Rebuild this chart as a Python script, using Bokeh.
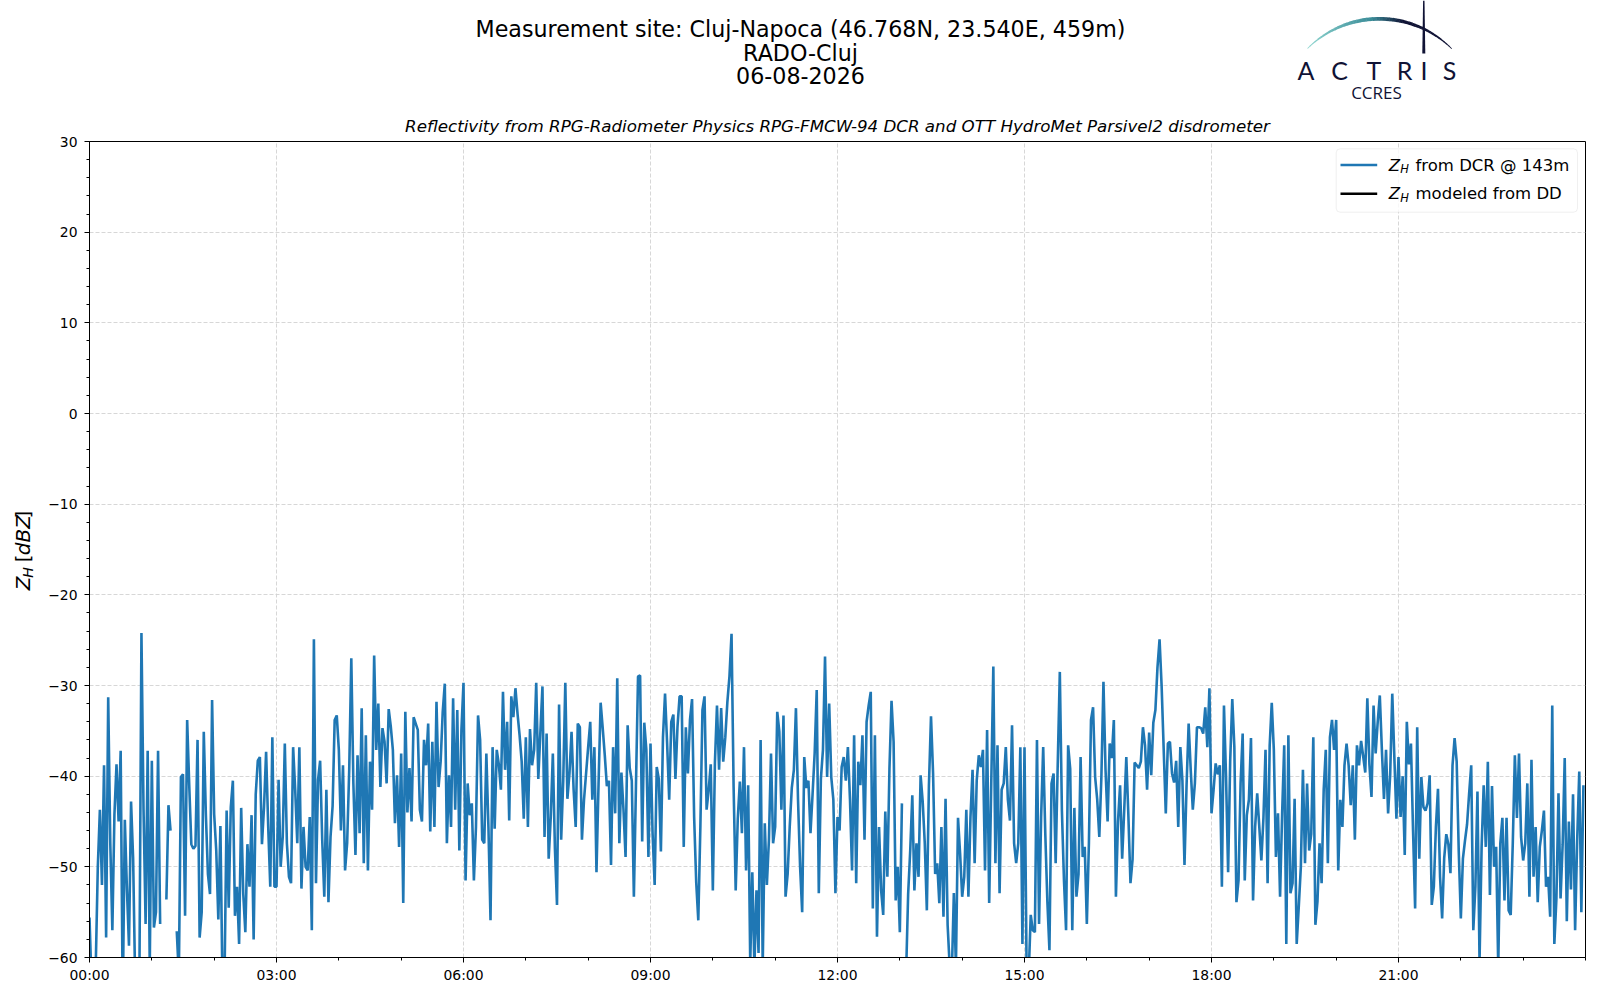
import numpy as np
import pandas as pd
from bokeh.plotting import figure
from bokeh.layouts import column, row
from bokeh.models import (Range1d, FixedTicker, DatetimeTickFormatter, CustomJSTickFormatter,
                          Label, BoxAnnotation, ColumnDataSource)
from bokeh.core.properties import value
from bokeh.embed import file_html
from bokeh.resources import INLINE

nan = float("nan")

# ---------------- texts ----------------
site_title = "Measurement site: Cluj-Napoca (46.768N, 23.540E, 459m)"
station_name = "RADO-Cluj"
date_label = "06-08-2026"
subtitle = "Reflectivity from RPG-Radiometer Physics RPG-FMCW-94 DCR and OTT HydroMet Parsivel2 disdrometer"
legend_labels = ["from DCR @ 143m", "modeled from DD"]
x_tick_labels = ["00:00", "03:00", "06:00", "09:00", "12:00", "15:00", "18:00", "21:00"]
y_ticks = [-60, -50, -40, -30, -20, -10, 0, 10, 20, 30]
day = "2026-08-06"

# ---------------- data: Z_H from DCR (dBZ), 2-minute samples ----------------
zh_00_03 = [-55.6, -63, -64, -61, -50, -43.7, -52, -38.8, -57.8, -31.3,
            -47.4, -57, -44.2, -38.7, -45, -37.2, -65, -44.8, -52.4, -58.7,
            -42.8, -49.1, -63, -62, -63, -24.2, -43.6, -56.3, -37.2, -61,
            -38.3, -56.7, -55, -37.2, -56.3, nan, nan, -53.6, -43.2, -46,
            nan, nan, -57.1, -62, -40.1, -39.8, -55.4, -33.8, -41, -47.5,
            -48, -47.7, -36, -57.8, -55, -35.1, -44.2, -50.8, -53, -31.6,
            -44.2, -48.2, -55.8, -45.5, -63, -62, -43.8, -54.5, -43.4, -40.5,
            -55.4, -52.2, -58.5, -43.5, -53, -57.2, -47.5, -52.2, -44.3, -58,
            -42, -38.3, -37.9, -47.5, -43.4, -37.3, -45.5, -52.2, -35.7, -52.2]
zh_03_06 = [-52.2, -40.4, -50, -46.7, -36.4, -47.4, -51.1, -51.8, -36.8, -41.5,
            -47.4, -36.8, -52.4, -45.6, -50, -50.4, -44.5, -57, -24.9, -51.8,
            -40.4, -38.3, -47, -53.3, -41.5, -53.9, -46.7, -43.3, -33.8, -33.3,
            -37.1, -46, -38.8, -50.4, -47.4, -39.3, -27, -40.8, -48.7, -37.7,
            -46.3, -32.5, -49.6, -35.5, -50.4, -38.4, -43.7, -26.7, -37.1, -32,
            -41.2, -34.7, -36.2, -40.8, -32.6, -34.5, -37.1, -45.2, -39.9, -47.8,
            -37.5, -54, -32.9, -44, -39.1, -45, -33.5, -34.2, -34.9, -43.7,
            -45, -36, -38.8, -34.2, -46.1, -36.2, -45.6, -31.8, -41.2, -38.4,
            -32.9, -29.8, -47.4, -39.9, -45.6, -31.4, -43.7, -32.7, -48.2, -34.9]
zh_06_09 = [-29.7, -51.5, -40.8, -44.3, -43, -51.5, -45.6, -33.3, -36, -47,
            -47.4, -37.5, -45.6, -55.9, -36.8, -45.8, -37.1, -38.7, -41.5, -30.7,
            -39.3, -34, -44.9, -31.2, -33.5, -30.3, -33.1, -35.5, -38.4, -44.7,
            -35.7, -45.6, -34.8, -38.8, -37.1, -29.7, -40.3, -35.1, -30.1, -46.7,
            -35.3, -49.1, -44.5, -37.5, -48, -54.2, -32.1, -47, -40.5, -29.7,
            -42.5, -39.7, -35.1, -41.5, -45.6, -34.2, -34.6, -47, -42.6, -39.7,
            -36.8, -34, -42.6, -36.8, -50.6, -40.8, -31.9, -34.7, -37.7, -41.1,
            -40.5, -49.8, -36.8, -44.1, -29.2, -47.4, -39.6, -43.7, -48.9, -34.4,
            -39.1, -40.5, -53.3, -41.1, -29, -28.9, -47.2, -34.1, -37.1, -48.9]
zh_09_12 = [-36.4, -46.3, -52, -39, -40.3, -48.3, -35.7, -30.9, -36.4, -42.6,
            -34, -33.2, -40.3, -34.5, -31.2, -31.2, -47.8, -34.6, -39.7, -33.8,
            -31.5, -44.5, -51.7, -55.9, -45.6, -32.7, -31.2, -43.7, -41.5, -38.7,
            -52.6, -38.5, -32.2, -39.3, -32.5, -38.4, -35.7, -31.8, -29, -24.3,
            -41.2, -52.6, -44.7, -40.6, -46.3, -36.8, -50.4, -41, -60.5, -50.6,
            -61, -52.6, -59.5, -36, -61, -45.2, -52, -47, -37.5, -47.4,
            -45.6, -32.9, -35.1, -43.7, -33.3, -53.3, -50.8, -45.6, -41.3, -39.3,
            -32.5, -42.6, -50, -55, -37.9, -41.3, -40.5, -46.3, -42, -37.5,
            -30.5, -52.9, -40.3, -37.1, -26.8, -40.1, -32, -40.1, -42.6, -52.9]
zh_12_15 = [-44.5, -46, -39, -37.9, -40.5, -36.8, -42.5, -50.4, -35.5, -51.8,
            -38.4, -41, -35.5, -47, -34, -32.2, -30.7, -54.6, -35.5, -57.7,
            -45.6, -52.6, -55.3, -43.9, -51.1, -39.2, -31.7, -36.2, -53.7, -50,
            -57.2, -43, nan, -62, -53, -48.2, -42.1, -52.6, -47.4, -51.1,
            -39.9, -42.8, -47.4, -54.8, -41, -33.4, -39.7, -50.8, -49.6, -54,
            -45.6, -55.5, -42.5, -56.4, -61, -62, -52.9, -61, -44.6, -48.5,
            -53.3, -51.1, -43.7, -53.3, -44.5, -39.3, -49.6, -40.5, -37.7, -39,
            -37.1, -50.4, -34.9, -54, -40.8, -27.9, -49.6, -36.6, -52.9, -41.5,
            -40.8, -36.8, -42.6, -44.9, -34.4, -47.4, -49.6, -47.4, -36.8, -58.5]
zh_15_18 = [-36.8, -61, -62, -55.3, -57, -57.2, -36, -56.3, -44.5, -36.8,
            -46.3, -53.8, -59.2, -40.8, -39.7, -49.6, -38.6, -28.5, -43.8, -51.5,
            -57, -36.6, -39.2, -57, -43.5, -53.3, -50.8, -37.9, -48.9, -47.8,
            -56.3, -47.4, -33.8, -32.4, -40.1, -42.6, -46.7, -40.1, -29.6, -39.3,
            -45, -36.4, -38, -33.8, -53.3, -45, -41, -49.1, -43.7, -37.9,
            -44.4, -51.8, -49.2, -38.5, -38.8, -39.1, -38.4, -34.6, -36.6, -41.5,
            -35.2, -39.9, -34.1, -32.7, -28, -24.9, -30.1, -37.1, -44.1, -36.4,
            -36.2, -39.7, -40.7, -38.3, -45.6, -36.8, -40.5, -49.8, -41, -34.2,
            -39.3, -43.7, -40.8, -34.6, -34.6, -34.7, -35.3, -32.4, -36.8, -30.3]
zh_18_21 = [-44.1, -41.5, -38.6, -39.8, -38.8, -52.2, -32.2, -40.1, -50.6, -38.3,
            -31.5, -36.8, -53.9, -51.5, -40.8, -35.3, -51.5, -44.3, -42.6, -35.8,
            -53.7, -45.6, -41.9, -45.6, -49.3, -44.6, -37.1, -51.8, -36.6, -31.9,
            -37.1, -48.9, -44.1, -53.3, -44.1, -36.6, -58.5, -35.5, -52.9, -51.8,
            -42.5, -58.5, -54.4, -50, -39.3, -49.6, -40.8, -48.2, -46.4, -35.7,
            -56.4, -53.8, -47.4, -51.8, -41.5, -37.1, -49.6, -35.7, -33.8, -37.1,
            -33.8, -50.4, -42.6, -45.6, -38.8, -36.4, -38.8, -43.2, -38.8, -47,
            -36.6, -38.8, -36.1, -37.8, -39.6, -31.4, -38.7, -42.3, -32.2, -37.5,
            -34, -31.1, -37.1, -42.5, -37.1, -44.1, -39.8, -30.9, -37.9, -44.7]
zh_21_24 = [-37.9, -44.5, -40, -48.7, -34, -38.7, -36.4, -46, -54.6, -34.6,
            -49.1, -40.1, -43.4, -43.8, -43, -39.9, -54.2, -52.2, -45.6, -41.4,
            -51.1, -55.7, -49, -46.4, -47.5, -50.7, -38.8, -35.8, -38.4, -48.3,
            -55.7, -49.1, -47.1, -45.3, -41.9, -38.8, -57, -52.2, -41.7, -60.5,
            -47.8, -41, -47.8, -38.4, -53.1, -41.1, -50, -47.8, -61, -47.4,
            -44.6, -53.7, -44.6, -54.8, -55.3, -47.4, -37.7, -44.6, -37.5, -46.7,
            -49.3, -47.4, -40.8, -53.3, -38.2, -51.1, -45.6, -53.9, -47.8, -46,
            -43.8, -52.2, -51.1, -55.5, -32.2, -58.5, -53.5, -41.9, -53.5, -47.5,
            -38, -56, -45, -52.5, -42, -57, -47, -39.5, -55, -41]
# Z_H modeled from the disdrometer: no data available on this day
zh_dd = []

# ---------------- assemble ----------------
zh = np.array(zh_00_03 + zh_03_06 + zh_06_09 + zh_09_12 +
              zh_12_15 + zh_15_18 + zh_18_21 + zh_21_24, dtype=float)
times = pd.date_range(day + " 00:00", periods=len(zh), freq="2min")
src = ColumnDataSource(dict(time=times, zh=zh))
src_dd = ColumnDataSource(dict(time=times[:len(zh_dd)], zh=np.array(zh_dd, dtype=float)))

day0 = pd.Timestamp(day)
tick_ms = [(day0 + pd.Timedelta(hours=int(s[:2]))).value // 10**6 for s in x_tick_labels]
minor_ms = [(day0 + pd.Timedelta(hours=h)).value // 10**6 for h in range(0, 25)]

# ---------------- layout geometry (page px) ----------------
W, H = 1596, 996
HH = 105          # header height
YW = 40           # y-label strip width
FL, FT, FR, FB = 89, 141, 1585, 957   # plot frame edges on the page
MW, MH = W - YW, H - HH

navy = "#101335"


def blank(width, height, y0):
    f = figure(width=width, height=height, output_backend="svg", toolbar_location=None,
               x_range=Range1d(0, width), y_range=Range1d(y0 + height, y0),
               x_axis_location=None, y_axis_location=None, min_border=0, title=None)
    f.grid.visible = False
    f.outline_line_color = None
    f.background_fill_color = "white"
    f.border_fill_color = "white"
    return f


def txt(f, x, y, s, size, style="normal", font="DejaVu Sans", align="center",
        baseline="middle", color="black", angle=0.0):
    f.text(x=[x], y=[y], text=[s], text_font=value(font), text_font_size=value(f"{size}px"),
           text_font_style=style, text_align=align, text_baseline=baseline,
           text_color=color, angle=angle)


# ---------- header: titles + logo ----------
hdr = blank(W, HH, 0)
txt(hdr, 800, 28.6, site_title, 22.2)
txt(hdr, 800, 52, station_name, 22.2)
txt(hdr, 800, 74.5, date_label, 22.2)

for ch, cx in zip("ACTRIS", [1305.5, 1339, 1373.5, 1404, 1423.5, 1449]):
    txt(hdr, cx, 69.5, ch, 25, font="Lato", color=navy)
txt(hdr, 1376, 92, "CCRES", 17, font="Open Sans", color=navy)


def mix(c1, c2, t):
    a = [int(c1[i:i + 2], 16) for i in (1, 3, 5)]
    b = [int(c2[i:i + 2], 16) for i in (1, 3, 5)]
    return "#" + "".join(f"{int(round(a[k] + (b[k] - a[k]) * t)):02x}" for k in range(3))


cxo, cyo, R = 1379.0, 120.4, 102.1
phis = np.radians(np.linspace(134.8, 45.2, 49))
arc_xs, arc_ys, arc_cols = [], [], []
for k in range(len(phis) - 1):
    t = k / (len(phis) - 2)
    w0 = 0.8 + 3.0 * np.sin(np.pi * t)
    if t < 0.45:
        col = mix("#8fd6d0", "#3a8c98", t / 0.45)
    elif t < 0.65:
        col = mix("#3a8c98", navy, (t - 0.45) / 0.2)
    else:
        col = navy
    a0, a1 = phis[k], phis[k + 1] - 0.004
    arc_xs.append([cxo + (R + w0 / 2) * np.cos(a0), cxo + (R + w0 / 2) * np.cos(a1),
                   cxo + (R - w0 / 2) * np.cos(a1), cxo + (R - w0 / 2) * np.cos(a0)])
    arc_ys.append([cyo - (R + w0 / 2) * np.sin(a0), cyo - (R + w0 / 2) * np.sin(a1),
                   cyo - (R - w0 / 2) * np.sin(a1), cyo - (R - w0 / 2) * np.sin(a0)])
    arc_cols.append(col)
hdr.patches(xs=arc_xs, ys=arc_ys, fill_color=arc_cols, line_color=None)
hdr.patches(xs=[[1422.6, 1424.0, 1424.8, 1421.8]], ys=[[0, 0, 53, 53]],
            fill_color=navy, line_color=None)

# ---------- y label strip ----------
ylf = blank(YW, MH, HH)
yl_x = 22.5
y0l = 595
ang = np.pi / 2
txt(ylf, yl_x, y0l, "Z", 20, style="italic", align="left", angle=ang)
txt(ylf, yl_x + 4.6, y0l - 13.7, "H", 14, style="italic", align="left", angle=ang)
txt(ylf, yl_x, y0l - 30.6, "[", 20, align="left", angle=ang)
txt(ylf, yl_x, y0l - 38.2, "dBZ", 20, style="italic", align="left", angle=ang)
txt(ylf, yl_x, y0l - 78.3, "]", 20, align="left", angle=ang)

# ---------- main plot ----------
p = figure(width=MW, height=MH, output_backend="svg", toolbar_location=None, title=subtitle,
           x_range=Range1d(day0.to_pydatetime(), (day0 + pd.Timedelta(days=1)).to_pydatetime()),
           y_range=Range1d(y_ticks[0], y_ticks[-1]),
           min_border_left=FL - YW, min_border_top=FT - HH,
           min_border_right=W - FR, min_border_bottom=H - FB)
p.title.align = "center"
p.title.text_font = "DejaVu Sans"
p.title.text_font_size = "16.7px"
p.title.text_font_style = "italic"
p.title.text_color = "black"
p.title.standoff = 11
p.background_fill_color = "white"
p.border_fill_color = "white"
p.outline_line_color = "black"
p.outline_line_width = 1

p.line(x="time", y="zh", source=src, line_color="#1f77b4", line_width=2.6)
p.line(x="time", y="zh", source=src_dd, line_color="black", line_width=2.6)

p.xaxis.ticker = FixedTicker(ticks=tick_ms, minor_ticks=minor_ms)
p.xaxis.formatter = DatetimeTickFormatter(hours="%H:%M", days="%H:%M", minutes="%H:%M",
                                          hourmin="%H:%M", months="%H:%M", years="%H:%M")
p.yaxis.ticker = FixedTicker(ticks=y_ticks, minor_ticks=list(range(y_ticks[0], y_ticks[-1] + 1, 2)))
p.yaxis.formatter = CustomJSTickFormatter(code="return tick < 0 ? '\u2212' + (-tick) : '' + tick;")

for ax in (p.xaxis[0], p.yaxis[0]):
    ax.axis_line_color = "black"
    ax.axis_line_width = 1
    ax.major_tick_line_color = "black"
    ax.minor_tick_line_color = "black"
    ax.major_tick_in = 0
    ax.major_tick_out = 5
    ax.minor_tick_in = 0
    ax.minor_tick_out = 3
    ax.major_label_text_font = "DejaVu Sans"
    ax.major_label_text_font_size = "13.9px"
    ax.major_label_text_color = "black"
p.yaxis[0].major_label_standoff = 7
p.xaxis[0].major_label_standoff = 4

for g in (p.xgrid[0], p.ygrid[0]):
    g.grid_line_color = "#d2d2d2"
    g.grid_line_dash = "4 2"
    g.grid_line_width = 0.9


# legend drawn inside the frame (screen units are relative to the frame)
def sx(xo):
    return xo - FL


def sy(yo):
    return FB - yo


def lab(x, y, text, size, style="normal", align="left"):
    p.add_layout(Label(x=sx(x), y=sy(y), x_units="screen", y_units="screen", text=text,
                       text_font="DejaVu Sans", text_font_size=f"{size}px", text_font_style=style,
                       text_align=align, text_baseline="middle", text_color="black"))


def box(l, r, t, b, fill, line=None, radius=0, alpha=1.0):
    p.add_layout(BoxAnnotation(left=sx(l), right=sx(r), top=sy(t), bottom=sy(b),
                               left_units="screen", right_units="screen", top_units="screen",
                               bottom_units="screen", fill_color=fill, fill_alpha=alpha,
                               line_color=line, line_width=1, border_radius=radius))


box(1335.7, 1577, 148.3, 211.7, "white", line="#cccccc", radius=4, alpha=0.8)
for row_y, col, text in ((164.5, "#1f77b4", legend_labels[0]), (193.3, "black", legend_labels[1])):
    box(1340, 1376.7, row_y - 1.2, row_y + 1.2, col)
    lab(1388.3, row_y, "Z", 16.5, style="italic")
    lab(1399.8, row_y + 4, "H", 11.5, style="italic")
    lab(1415, row_y, text, 16.5)

layout = column(hdr, row(ylf, p, spacing=0), spacing=0)
open("out.html", "w").write(file_html(layout, INLINE))
